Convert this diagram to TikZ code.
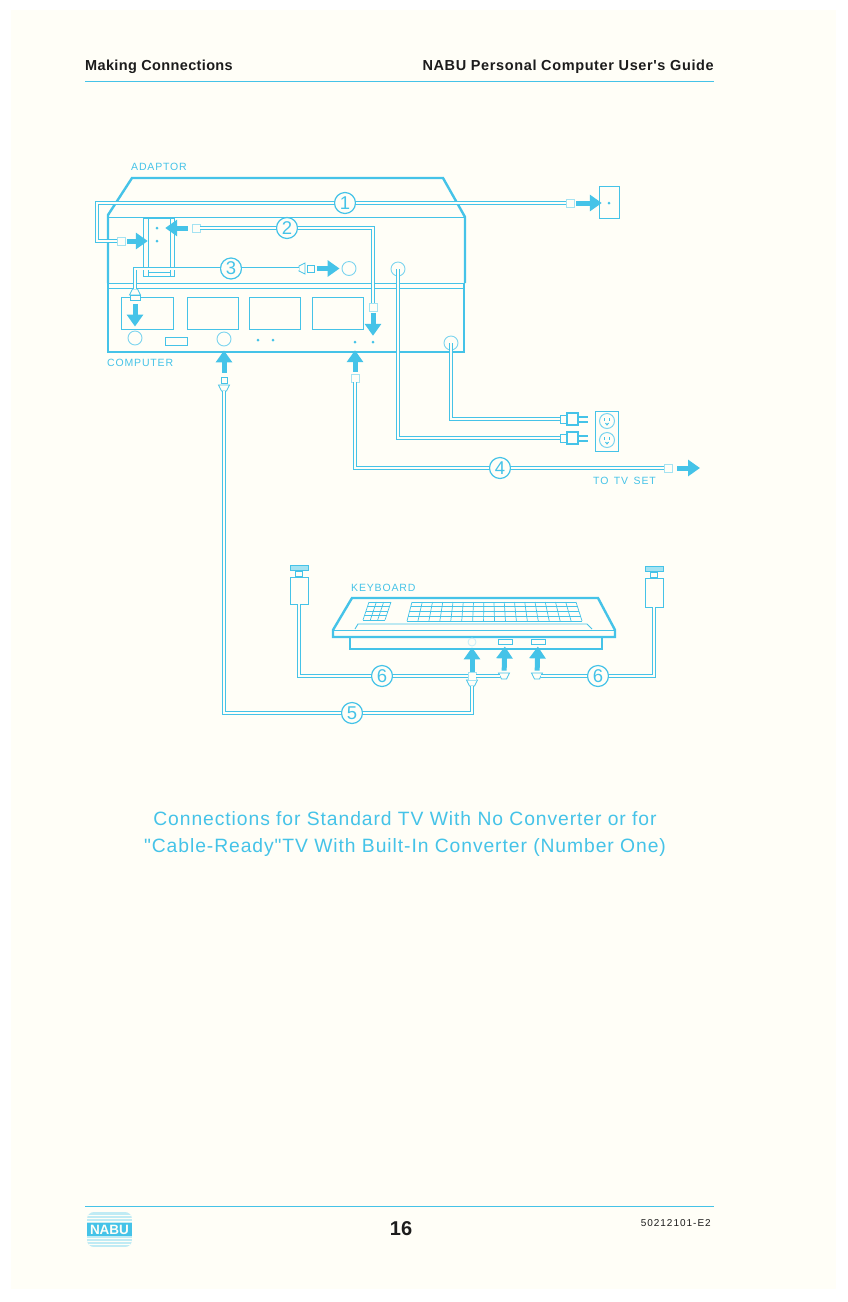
\documentclass[tikz,border=0pt]{standalone}
\usepackage{fontspec}
\setmainfont{Liberation Sans}
\newfontfamily\titlefont[LetterSpace=4.8]{Liberation Sans}
\newfontfamily\capfont[LetterSpace=8]{Liberation Sans}
\newfontfamily\headfont[LetterSpace=2.5]{Liberation Sans}
\newfontfamily\headwidefont[LetterSpace=4.3]{Liberation Sans}
\newfontfamily\partfont[LetterSpace=10]{Liberation Sans}
\usetikzlibrary{arrows.meta, shapes.geometric}
\definecolor{paper}{HTML}{FFFEF7}
\definecolor{nabucyan}{HTML}{45C3E8}
\definecolor{paleline}{HTML}{A5E3F2}
\definecolor{inktext}{HTML}{1C1C1C}
\tikzset{
    body/.style={draw=nabucyan, line width=2.4pt, line join=miter},
    thinline/.style={draw=nabucyan, line width=0.9pt},
    cable/.style={draw=nabucyan, line width=0.9pt, double=paper, double distance=2pt, line join=miter},
    fatarrow/.style={draw=nabucyan, line width=5pt, shorten <=2pt, -{Triangle[length=12pt,width=16pt]}},
    badge/.style={draw=nabucyan, line width=1.2pt, circle, fill=paper, minimum size=21pt, inner sep=0pt, text=nabucyan, font=\fontsize{18.5}{18}\selectfont},
    socket/.style={draw=nabucyan!70, line width=0.9pt, circle, fill=paper, minimum size=14pt, inner sep=0pt},
    portdot/.style={circle, fill=nabucyan, minimum size=3pt, inner sep=0pt},
    plug/.style={draw=paleline, line width=0.9pt, fill=paper, minimum size=8pt, inner sep=0pt},
    cone/.style={draw=nabucyan, line width=0.8pt, fill=paper, trapezium, trapezium angle=60, minimum width=11pt, minimum height=6pt, inner sep=1pt, trapezium stretches=true},
    panel/.style={thinline, fill=paper},
    caplabel/.style={text=nabucyan, font=\capfont\fontsize{10.5}{11}\selectfont, inner sep=0pt},
    headlabel/.style={text=inktext, font=\headfont\bfseries\fontsize{14.5}{15}\selectfont, inner sep=0pt},
    title/.style={text=nabucyan, font=\titlefont\fontsize{19.3}{20}\selectfont, inner sep=0pt},
    powerbody/.style={draw=nabucyan, line width=1.4pt, fill=paper, minimum width=11pt, minimum height=12pt, inner sep=0pt},
    powerneck/.style={draw=nabucyan, line width=0.9pt, fill=paper, minimum width=7pt, minimum height=8pt, inner sep=0pt},
    outlet/.style={draw=nabucyan!70, line width=1pt, circle, minimum size=15pt, inner sep=0pt},
    prong/.style={draw=nabucyan, line width=2pt}
}
\begin{document}
\begin{tikzpicture}[x=1pt, y=-1pt]
    \useasboundingbox (0,0) rectangle (847,1302);
    \fill[white] (0,0) rectangle (847,1302);
    \fill[paper] (11,10) rectangle (836,1289);

    % page head and foot
    \node (headleft) [headlabel, anchor=base west] at (85,70) {Making Connections};
    \node (headright) [headlabel, font=\headwidefont\bfseries\fontsize{14.5}{15}\selectfont, anchor=base east] at (714,70) {NABU Personal Computer User's Guide};
    \draw[nabucyan, line width=1pt] (85,81) -- (714,81);
    \draw[nabucyan, line width=1pt] (85,1206) -- (714,1206);
    \node (pagenum) [text=inktext, font=\fontsize{20}{20}\selectfont\bfseries, inner sep=0pt] at (401,1229) {16};
    \node (partnum) [text=inktext, font=\partfont\fontsize{10}{10}\selectfont, inner sep=0pt, anchor=east] at (711,1223) {50212101-E2};

    % logo
    \begin{scope}
        \clip[rounded corners=7pt] (87,1212) rectangle (132,1247);
        \fill[paleline!70!paper] (87,1212) rectangle (132,1247);
        \foreach \y in {1215,1218,1221,1238,1241,1244}
            \draw[paper, line width=0.8pt] (87,\y) -- (132,\y);
        \fill[nabucyan] (87,1223) rectangle (132,1236);
    \end{scope}
    \node (logo) [text=paper, font=\fontsize{13.5}{13}\selectfont\bfseries, inner sep=0pt] at (109.5,1229.5) {NABU};

    % adaptor
    \node (adaptorlabel) [caplabel, anchor=west] at (131,167) {ADAPTOR};
    \draw[body] (108,283) -- (108,215) -- (132,178) -- (443,178) -- (465,217) -- (465,283);
    \draw[thinline] (108,217) -- (465,217);
    \draw[thinline] (143,218) rectangle (174,276);
    \draw[thinline] (148,218) -- (148,276);
    \draw[thinline] (170,218) -- (170,276);
    \draw[thinline] (148,272) -- (170,272);

    % computer
    \node (computerlabel) [caplabel, anchor=west] at (107,363) {COMPUTER};
    \draw[thinline] (108,283) -- (465,283);
    \draw[thinline] (108,288) -- (465,288);
    \draw[body] (108,283) -- (108,352) -- (464,352) -- (464,283);
    \node (panelA) [panel, minimum width=52pt, minimum height=32pt, inner sep=0pt] at (147,313) {};
    \node (panelB) [panel, minimum width=51pt, minimum height=32pt, inner sep=0pt] at (212.5,313) {};
    \node (panelC) [panel, minimum width=51pt, minimum height=32pt, inner sep=0pt] at (274.5,313) {};
    \node (panelD) [panel, minimum width=51pt, minimum height=32pt, inner sep=0pt] at (337.5,313) {};
    \node (slot) [thinline, minimum width=22pt, minimum height=8pt, inner sep=0pt] at (176,341) {};

    % sockets and dots
    \node (sockAnt) [socket] at (135,338) {};
    \node (sockKbd) [socket] at (224,339) {};
    \node (sockPower) [socket] at (451,343) {};
    \node (sockAdaptorOut) [socket] at (349,268.5) {};
    \node (sockAdaptorPower) [socket] at (398,269) {};
    \node (dotInA) [portdot] at (157,228) {};
    \node (dotInB) [portdot] at (157,241) {};
    \node (dotMidA) [portdot] at (258,340) {};
    \node (dotMidB) [portdot] at (273,340) {};
    \node (dotTv) [portdot] at (355,342) {};
    \node (dotCable) [portdot] at (373,342) {};

    % wall plate and outlets
    \node (wallplate) [thinline, minimum width=20pt, minimum height=32pt, inner sep=0pt] at (609,202) {};
    \node (walldot) [portdot] at (609,203) {};
    \node (outletplate) [thinline, minimum width=23pt, minimum height=40pt, inner sep=0pt] at (606.5,431) {};
    \node (outletA) [outlet] at (607,421) {};
    \node (outletB) [outlet] at (607,440) {};
    \foreach \y in {421,440} {
        \draw[nabucyan, line width=1pt] (604.5,\y-3) -- (604.5,\y-0.5);
        \draw[nabucyan, line width=1pt] (609.5,\y-3) -- (609.5,\y-0.5);
        \draw[nabucyan, line width=1pt] (605.5,\y+2) .. controls (606,\y+4.5) and (608,\y+4.5) .. (608.5,\y+2);
    }

    % badges
    \node (numOne) [badge] at (345,203) {1};
    \node (numTwo) [badge] at (287,228) {2};
    \node (numThree) [badge] at (231,268.5) {3};
    \node (numFour) [badge] at (500,468) {4};
    \node (numFive) [badge] at (352,713) {5};
    \node (numSixA) [badge] at (382,676) {6};
    \node (numSixB) [badge] at (598,676) {6};

    % plugs
    \node (plugOneA) [plug] at (570,203) {};
    \node (plugOneB) [plug] at (121,241) {};
    \node (plugTwoA) [plug] at (196,228) {};
    \node (plugTwoB) [plug] at (373,307) {};
    \node (coneThreeA) [cone] at (135,292) {};
    \node (plugThreeA) [plug, draw=nabucyan, minimum width=10pt, minimum height=5pt] at (135,298) {};
    \node (coneThreeB) [cone, shape border rotate=90] at (302,268.5) {};
    \node (plugThreeB) [plug, draw=nabucyan, minimum size=7pt] at (311,268.5) {};
    \node (plugFourA) [plug] at (355,378) {};
    \node (plugFourB) [plug] at (668,468) {};
    \node (plugFiveA) [plug, minimum size=6pt, draw=nabucyan] at (224,380) {};
    \node (coneFiveA) [cone, shape border rotate=180] at (224,388) {};
    \node (coneFiveB) [cone, shape border rotate=180] at (472,683) {};
    \node (plugFiveB) [plug] at (472,676) {};
    \node (neckA) [powerneck] at (564,419) {};
    \node (neckB) [powerneck] at (564,438) {};
    \node (powerA) [powerbody] at (572.5,419) {};
    \node (powerB) [powerbody] at (572.5,438) {};
    \draw[prong] (powerA.east) ++(0,-2.5) -- ++(9,0);
    \draw[prong] (powerA.east) ++(0,2.5) -- ++(9,0);
    \draw[prong] (powerB.east) ++(0,-2.5) -- ++(9,0);
    \draw[prong] (powerB.east) ++(0,2.5) -- ++(9,0);

    % cables
    \coordinate (bendOneA) at (97,203);
    \coordinate (bendOneB) at (97,241);
    \draw[cable] (plugOneA) -- (numOne);
    \draw[cable] (numOne) -- (bendOneA) -- (bendOneB) -- (plugOneB);
    \coordinate (bendTwo) at (373,228);
    \draw[cable] (plugTwoA) -- (numTwo);
    \draw[cable] (numTwo) -- (bendTwo) -- (plugTwoB);
    \coordinate (bendThree) at (135,268.5);
    \draw[cable] (coneThreeA) -- (bendThree) -- (numThree);
    \draw[cable] (numThree) -- (coneThreeB);
    \coordinate (bendPowerA) at (398,438);
    \draw[cable] (sockAdaptorPower.center) -- (bendPowerA) -- (neckB);
    \coordinate (bendPowerB) at (451,419);
    \draw[cable] (sockPower.center) -- (bendPowerB) -- (neckA);
    \coordinate (bendFour) at (355,468);
    \draw[cable] (plugFourA) -- (bendFour) -- (numFour);
    \draw[cable] (numFour) -- (plugFourB);
    \coordinate (bendFiveA) at (224,713);
    \coordinate (bendFiveB) at (472,713);
    \draw[cable] (coneFiveA) -- (bendFiveA) -- (numFive);
    \draw[cable] (numFive) -- (bendFiveB) -- (coneFiveB);

    % keyboard
    \node (keyboardlabel) [caplabel, anchor=west] at (351,588) {KEYBOARD};
    \draw[body] (333,637) -- (333,630) -- (352,598) -- (598,598) -- (615,630) -- (615,637) -- cycle;
    \draw[thinline] (333,630) -- (615,630);
    \draw[body] (350,637) -- (350,649) -- (602,649) -- (602,637);
    \draw[thinline] (355,629) -- (358,624) -- (587,624) -- (592,629);
    \foreach \r in {0,1,2,3,4} {
        \draw[nabucyan, line width=0.7pt] ({369-\r*1.5},{602+\r*4.5}) -- ({391-\r*1.5},{602+\r*4.5});
        \draw[nabucyan, line width=0.7pt] ({412-\r*1.25},{602+\r*4.75}) -- ({576+\r*1.5},{602+\r*4.75});
    }
    \foreach \c in {0,1,2,3}
        \draw[nabucyan, line width=0.7pt] ({369+\c*7.33},602) -- ({363+\c*7.33},620);
    \foreach \c in {0,...,16}
        \draw[nabucyan, line width=0.7pt] ({412+\c*10.25},602) -- ({407+\c*10.94},621);
    \node (kbdJack) [draw=paleline!60, line width=0.8pt, circle, minimum size=8pt, inner sep=0pt] at (472,642) {};
    \node (kbdPortA) [thinline, minimum width=14pt, minimum height=5pt, inner sep=0pt] at (505,641.5) {};
    \node (kbdPortB) [thinline, minimum width=14pt, minimum height=5pt, inner sep=0pt] at (538,641.5) {};

    % game controllers
    \node (padLeft) [thinline, minimum width=18pt, minimum height=27pt, inner sep=0pt] at (299,590.5) {};
    \node (padLeftNeck) [thinline, minimum width=7pt, minimum height=5pt, inner sep=0pt, anchor=south] at (padLeft.north) {};
    \node (padLeftCap) [thinline, fill=paleline, minimum width=18pt, minimum height=5pt, inner sep=0pt, anchor=south] at (padLeftNeck.north) {};
    \node (padRight) [thinline, minimum width=18pt, minimum height=29pt, inner sep=0pt] at (654,592.5) {};
    \node (padRightNeck) [thinline, minimum width=7pt, minimum height=5pt, inner sep=0pt, anchor=south] at (padRight.north) {};
    \node (padRightCap) [thinline, fill=paleline, minimum width=18pt, minimum height=5pt, inner sep=0pt, anchor=south] at (padRightNeck.north) {};
    \node (wedgeA) [cone, shape border rotate=180] at (504,676) {};
    \node (wedgeB) [cone, shape border rotate=180] at (537,676) {};
    \coordinate (bendSixA) at (299,676);
    \coordinate (bendSixB) at (654,676);
    \draw[cable] (padLeft) -- (bendSixA) -- (numSixA);
    \draw[cable] (numSixA) -- (plugFiveB);
    \draw[cable] (plugFiveB) -- (wedgeA);
    \draw[cable] (padRight) -- (bendSixB) -- (numSixB);
    \draw[cable] (numSixB) -- (wedgeB);

    % block arrows
    \coordinate (tvEnd) at (700,468);
    \draw[fatarrow, shorten >=5.5pt] (plugOneA) -- (walldot);
    \draw[fatarrow, shorten >=7.5pt] (plugOneB) -- (dotInB);
    \draw[fatarrow, shorten <=4pt, shorten >=6.5pt] (plugTwoA) -- (dotInA);
    \draw[fatarrow, shorten >=4.5pt] (plugTwoB) -- (dotCable);
    \draw[fatarrow, shorten <=3pt, shorten >=4pt] (plugThreeA) -- (sockAnt);
    \draw[fatarrow, shorten >=2pt] (plugThreeB) -- (sockAdaptorOut);
    \draw[fatarrow, shorten >=6.5pt] (plugFourA) -- (dotTv);
    \draw[fatarrow, shorten <=5pt] (plugFourB) -- (tvEnd);
    \draw[fatarrow, shorten >=4pt, shorten <=4pt] (plugFiveA) -- (sockKbd);
    \draw[fatarrow, shorten <=0pt, shorten >=1pt] (plugFiveB) -- (kbdJack);
    \draw[fatarrow, shorten <=2pt, shorten >=2pt] (wedgeA) -- (kbdPortA);
    \draw[fatarrow, shorten <=2pt, shorten >=2pt] (wedgeB) -- (kbdPortB);

    \node (tvlabel) [caplabel, anchor=west] at (593,481) {TO\ \,TV\ \,SET};

    % caption
    \node (captionA) [title] at (405,819) {Connections for Standard TV With No Converter or for};
    \node (captionB) [title] at (405,847) {"Cable-Ready"TV With Built-In Converter (Number One)};
\end{tikzpicture}
\end{document}
